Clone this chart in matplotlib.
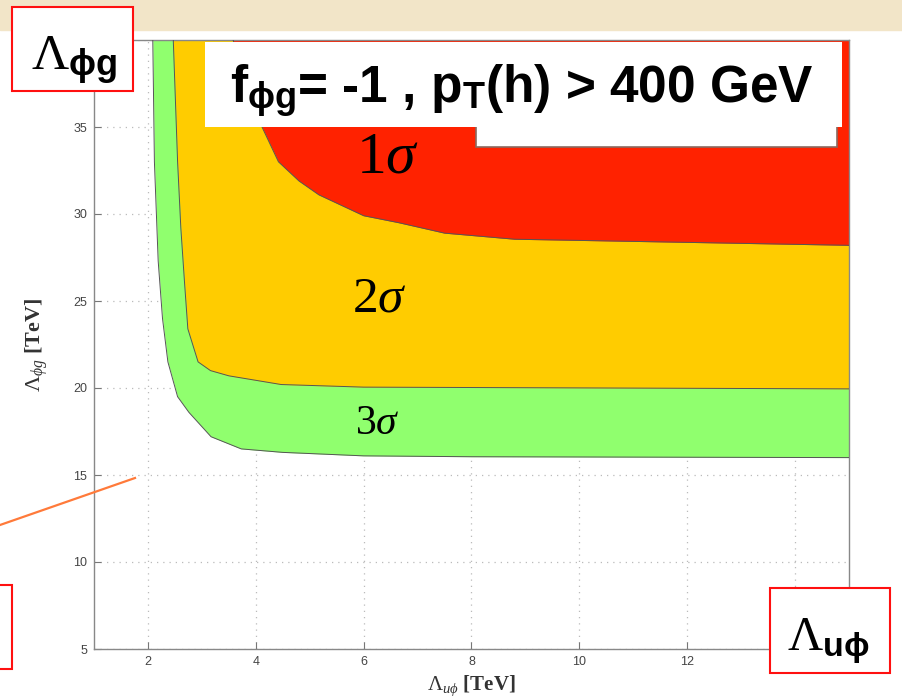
import matplotlib
matplotlib.use("Agg")
import matplotlib.pyplot as plt
from matplotlib.patches import Rectangle

matplotlib.rcParams["font.family"] = "Liberation Sans"
matplotlib.rcParams["mathtext.fontset"] = "custom"
matplotlib.rcParams["mathtext.rm"] = "Liberation Serif"
matplotlib.rcParams["mathtext.it"] = "Liberation Serif:italic"
matplotlib.rcParams["mathtext.bf"] = "Liberation Sans:bold"

# contour boundaries (Lambda_uphi [TeV], Lambda_phig [TeV])
sigma3_x = [2.09, 2.12, 2.19, 2.27, 2.37, 2.55, 2.76, 3.17, 3.73, 4.5, 6.0, 8.0, 15.0]
sigma3_y = [40.0, 33.0, 27.3, 24.0, 21.5, 19.5, 18.6, 17.2, 16.5, 16.3, 16.1, 16.05, 16.0]

sigma2_x = [2.47, 2.55, 2.61, 2.68, 2.74, 2.93, 3.16, 3.5, 4.47, 6.0, 15.0]
sigma2_y = [40.0, 33.0, 29.2, 26.0, 23.4, 21.5, 21.0, 20.7, 20.2, 20.05, 19.95]

sigma1_x = [3.58, 3.8, 4.1, 4.42, 4.8, 5.17, 6.0, 6.65, 7.5, 8.8, 15.0]
sigma1_y = [40.0, 37.3, 35.1, 33.0, 31.9, 31.1, 29.9, 29.5, 28.9, 28.55, 28.2]

x_ticks = [2, 4, 6, 8, 10, 12, 14]
x_labels = ["2", "4", "6", "8", "10", "12", ""]   # 14 hidden under the label box
y_ticks = [5, 10, 15, 20, 25, 30, 35, 40]
y_labels = ["5", "10", "15", "20", "25", "30", "35", ""]   # 40 hidden under the label box

W, H = 903, 699


def fx(px):
    return px / W


def fy(py):
    return 1 - py / H


fig = plt.figure(figsize=(W / 100, H / 100), dpi=100)

# slide background strip on top
fig.patches.append(Rectangle((0, fy(30)), 1, 1 - fy(30), transform=fig.transFigure,
                             color="#F2E5C8", zorder=0))

ax = fig.add_axes([fx(94), fy(649), fx(849) - fx(94), fy(40) - fy(649)])
ax.set_xlim(1, 15)
ax.set_ylim(5, 40)

for xs, ys, col in [(sigma3_x, sigma3_y, "#90FF6E"),
                    (sigma2_x, sigma2_y, "#FFCC00"),
                    (sigma1_x, sigma1_y, "#FF2200")]:
    ax.fill_between(xs, ys, 40, color=col, lw=0, zorder=2)
    ax.plot(xs, ys, color="#555555", lw=0.7, zorder=3)

ax.set_xticks(x_ticks, x_labels)
ax.set_yticks(y_ticks, y_labels)
ax.tick_params(direction="in", length=5, colors="#777777", labelcolor="#444444",
               labelsize=9, pad=5)
ax.grid(True, ls=(0, (1, 4)), color="#bbbbbb", lw=0.9, zorder=1)
ax.set_axisbelow(True)
for s in ax.spines.values():
    s.set_color("#888888")
    s.set_linewidth(1.0)

# sigma labels
ax.text(6.45, 33.3, r"$1\sigma$", fontsize=43, ha="center", va="center", zorder=4)
ax.text(6.3, 25.2, r"$2\sigma$", fontsize=37, ha="center", va="center", zorder=4)
ax.text(6.25, 18.0, r"$3\sigma$", fontsize=30, ha="center", va="center", zorder=4)

# axis labels
w_ax = fx(849) - fx(94)
ax.set_ylabel(r"$\Lambda_{\phi g}$ [TeV]", family="Liberation Serif", fontweight="bold",
              fontsize=16, color="#333333")
ax.yaxis.set_label_coords((fx(50) - fx(94)) / w_ax, 0.5)
fig.text(fx(471), fy(698), r"$\Lambda_{u\phi}$ [TeV]", family="Liberation Serif",
         fontweight="bold", fontsize=15, color="#333333", ha="center", va="bottom")

# empty legend box under the title
fig.patches.append(Rectangle((fx(476), fy(147)), fx(837) - fx(476), fy(110) - fy(147),
                             transform=fig.transFigure, facecolor="white",
                             edgecolor="#8a6a60", lw=1.2, zorder=5))
# title box
fig.patches.append(Rectangle((fx(205), fy(127)), fx(842) - fx(205), fy(42) - fy(127),
                             transform=fig.transFigure, facecolor="white",
                             edgecolor="none", zorder=6))
fig.text(fx(522), fy(103), r"f$_{\mathbf{\phi g}}$= -1 , p$_{\mathbf{T}}$(h) > 400 GeV",
         fontsize=37, fontweight="bold", ha="center", va="baseline", zorder=7)

# red annotation boxes
for x0, y0, x1, y1 in [(12, 7, 133, 91), (770, 588, 890, 673), (-5, 585, 12, 669)]:
    fig.patches.append(Rectangle((fx(x0), fy(y1)), fx(x1) - fx(x0), fy(y0) - fy(y1),
                                 transform=fig.transFigure, facecolor="white",
                                 edgecolor="#FF1010", lw=1.5, zorder=8))
fig.text(fx(31), fy(70), r"$\Lambda_{\mathbf{\phi g}}$", fontsize=37,
         ha="left", va="baseline", zorder=9)
fig.text(fx(787), fy(650), r"$\Lambda_{\mathbf{u\phi}}$", fontsize=35,
         ha="left", va="baseline", zorder=9)

# orange arrow line
fig.add_artist(plt.Line2D([fx(0), fx(135)], [fy(525), fy(478)], color="#FF7A3A",
                          lw=1.6, transform=fig.transFigure, zorder=9))

fig.savefig("out.png", dpi=100)
